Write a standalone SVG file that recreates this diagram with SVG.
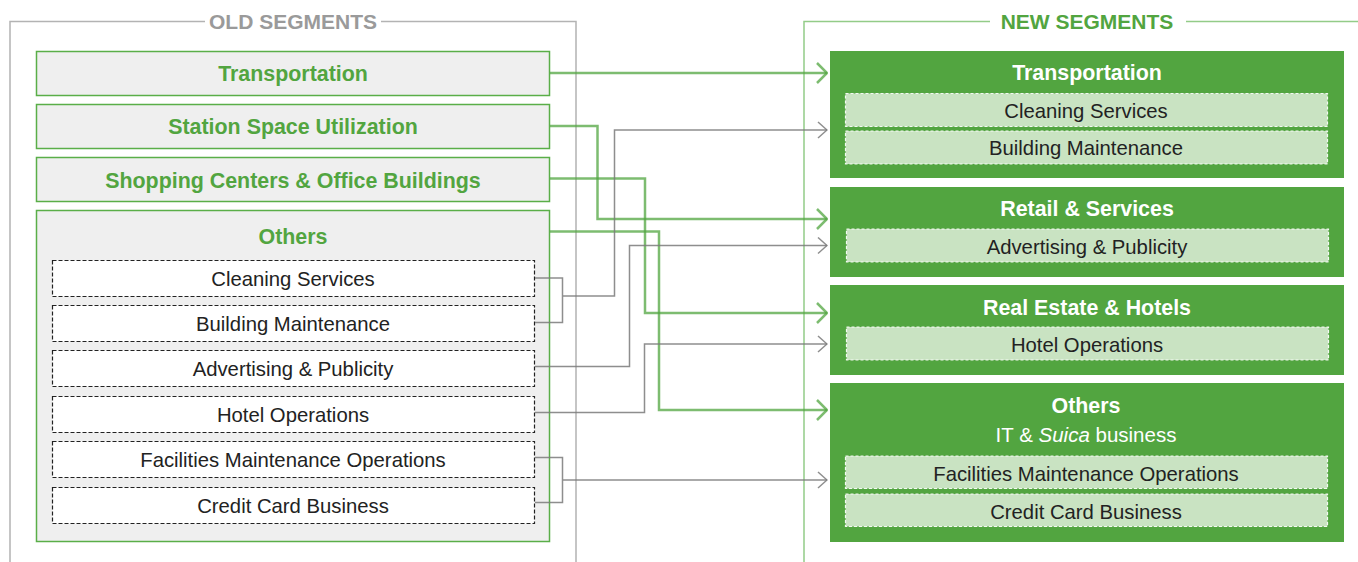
<svg xmlns="http://www.w3.org/2000/svg" width="1358" height="562" viewBox="0 0 1358 562">
  <style>
    .frame-old { fill: none; stroke: #b3b3b3; stroke-width: 1.5; }
    .frame-new { fill: none; stroke: #93cc88; stroke-width: 1.5; }
    .title-old { font-family: "Liberation Sans", Arial, sans-serif; font-weight: bold; font-size: 21px; fill: #9a9a9a; text-anchor: middle; }
    .title-new { font-family: "Liberation Sans", Arial, sans-serif; font-weight: bold; font-size: 21px; fill: #52a540; text-anchor: middle; }
    .old-box { fill: #efefef; stroke: #5aae48; stroke-width: 1.5; }
    .old-head { font-family: "Liberation Sans", Arial, sans-serif; font-weight: bold; font-size: 21.4px; fill: #52a540; text-anchor: middle; }
    .old-sub { fill: #ffffff; stroke: #222222; stroke-width: 1.2; stroke-dasharray: 4 2; }
    .sub-text { font-family: "Liberation Sans", Arial, sans-serif; font-size: 20.3px; fill: #222222; text-anchor: middle; }
    .new-box { fill: #52a540; }
    .new-head { font-family: "Liberation Sans", Arial, sans-serif; font-weight: bold; font-size: 21.4px; fill: #ffffff; text-anchor: middle; }
    .new-note { font-family: "Liberation Sans", Arial, sans-serif; font-size: 20.5px; fill: #ffffff; text-anchor: middle; }
    .new-sub { fill: #c9e3c2; stroke: #ffffff; stroke-width: 1.2; stroke-dasharray: 3 2; stroke-opacity: 0.9; }
    .link-main { fill: none; stroke: #52a540; stroke-opacity: 0.75; stroke-width: 2.5; }
    .link-minor { fill: none; stroke: #7a7a7a; stroke-opacity: 0.85; stroke-width: 1.5; }
  </style>
  <defs>
    <marker id="arrow-main" viewBox="0 0 12 22" refX="11" refY="11" markerWidth="12" markerHeight="22" markerUnits="userSpaceOnUse" orient="auto">
      <path d="M1,1 L11,11 L1,21" fill="none" stroke="#52a540" stroke-opacity="0.75" stroke-width="2.5"/>
    </marker>
    <marker id="arrow-minor" viewBox="0 0 11 18" refX="10" refY="9" markerWidth="11" markerHeight="18" markerUnits="userSpaceOnUse" orient="auto">
      <path d="M1,1 L10,9 L1,17" fill="none" stroke="#7a7a7a" stroke-opacity="0.85" stroke-width="1.5"/>
    </marker>
  </defs>

  <rect width="1358" height="562" fill="#ffffff"/>

  <!-- Frames with titles -->
  <g id="frame-old">
    <path class="frame-old" d="M205,21.5 H10 V562 M381,21.5 H576 V562"/>
    <text class="title-old" x="293" y="29">OLD SEGMENTS</text>
  </g>
  <g id="frame-new">
    <path class="frame-new" d="M990,21.5 H804 V562 M1186,21.5 H1358"/>
    <text class="title-new" x="1087" y="29">NEW SEGMENTS</text>
  </g>

  <!-- Old segments -->
  <g id="old-transportation">
    <rect class="old-box" x="36.5" y="51.5" width="513" height="44"/>
    <text class="old-head" x="293" y="81">Transportation</text>
  </g>
  <g id="old-station-space">
    <rect class="old-box" x="36.5" y="104.5" width="513" height="44"/>
    <text class="old-head" x="293" y="134">Station Space Utilization</text>
  </g>
  <g id="old-shopping">
    <rect class="old-box" x="36.5" y="157.5" width="513" height="44"/>
    <text class="old-head" x="293" y="187.5">Shopping Centers &amp; Office Buildings</text>
  </g>
  <g id="old-others">
    <rect class="old-box" x="36.5" y="210.5" width="513" height="331"/>
    <text class="old-head" x="293" y="243.5">Others</text>
    <g id="old-cleaning">
      <rect class="old-sub" x="52.5" y="260.5" width="482" height="36"/>
      <text class="sub-text" x="293" y="285.5">Cleaning Services</text>
    </g>
    <g id="old-building">
      <rect class="old-sub" x="52.5" y="305.5" width="482" height="36"/>
      <text class="sub-text" x="293" y="330.5">Building Maintenance</text>
    </g>
    <g id="old-advertising">
      <rect class="old-sub" x="52.5" y="350.5" width="482" height="36"/>
      <text class="sub-text" x="293" y="376">Advertising &amp; Publicity</text>
    </g>
    <g id="old-hotel">
      <rect class="old-sub" x="52.5" y="396.5" width="482" height="36"/>
      <text class="sub-text" x="293" y="421.5">Hotel Operations</text>
    </g>
    <g id="old-facilities">
      <rect class="old-sub" x="52.5" y="441.5" width="482" height="36"/>
      <text class="sub-text" x="293" y="467">Facilities Maintenance Operations</text>
    </g>
    <g id="old-credit">
      <rect class="old-sub" x="52.5" y="487.5" width="482" height="36"/>
      <text class="sub-text" x="293" y="513">Credit Card Business</text>
    </g>
  </g>

  <!-- New segments -->
  <g id="new-transportation">
    <rect class="new-box" x="830" y="51" width="514" height="127"/>
    <text class="new-head" x="1087" y="80">Transportation</text>
    <rect class="new-sub" x="845.5" y="93.5" width="482" height="33"/>
    <text class="sub-text" x="1086" y="117.5">Cleaning Services</text>
    <rect class="new-sub" x="845.5" y="131" width="482" height="33"/>
    <text class="sub-text" x="1086" y="155">Building Maintenance</text>
  </g>
  <g id="new-retail">
    <rect class="new-box" x="830" y="187" width="514" height="90"/>
    <text class="new-head" x="1087" y="216">Retail &amp; Services</text>
    <rect class="new-sub" x="846.5" y="229" width="482" height="33"/>
    <text class="sub-text" x="1087" y="253.5">Advertising &amp; Publicity</text>
  </g>
  <g id="new-real-estate">
    <rect class="new-box" x="830" y="285" width="514" height="90"/>
    <text class="new-head" x="1087" y="314.5">Real Estate &amp; Hotels</text>
    <rect class="new-sub" x="846.5" y="327" width="482" height="33"/>
    <text class="sub-text" x="1087" y="351.5">Hotel Operations</text>
  </g>
  <g id="new-others">
    <rect class="new-box" x="830" y="383" width="514" height="159"/>
    <text class="new-head" x="1086" y="413">Others</text>
    <text class="new-note" x="1086" y="442">IT &amp; <tspan font-style="italic">Suica</tspan> business</text>
    <rect class="new-sub" x="845.5" y="456" width="482" height="32.5"/>
    <text class="sub-text" x="1086" y="480.5">Facilities Maintenance Operations</text>
    <rect class="new-sub" x="845.5" y="494" width="482" height="32.5"/>
    <text class="sub-text" x="1086" y="518.5">Credit Card Business</text>
  </g>

  <!-- Connectors -->
  <g id="connectors">
    <path class="link-main" d="M550,73 H827" marker-end="url(#arrow-main)"/>
    <path class="link-main" d="M550,126 H597.5 V219 H827" marker-end="url(#arrow-main)"/>
    <path class="link-main" d="M550,178.5 H645 V313 H827" marker-end="url(#arrow-main)"/>
    <path class="link-main" d="M550,231.5 H659 V410 H827" marker-end="url(#arrow-main)"/>

    <path class="link-minor" d="M535,278 H562.5 V322.5 H535 M562.5,296 H614.5 V130 H827" marker-end="url(#arrow-minor)"/>
    <path class="link-minor" d="M535,366.5 H629.5 V245.5 H827" marker-end="url(#arrow-minor)"/>
    <path class="link-minor" d="M535,412.5 H644.5 V344 H827" marker-end="url(#arrow-minor)"/>
    <path class="link-minor" d="M535,457.5 H562.5 V502.5 H535 M562.5,480 H827" marker-end="url(#arrow-minor)"/>
  </g>
</svg>
